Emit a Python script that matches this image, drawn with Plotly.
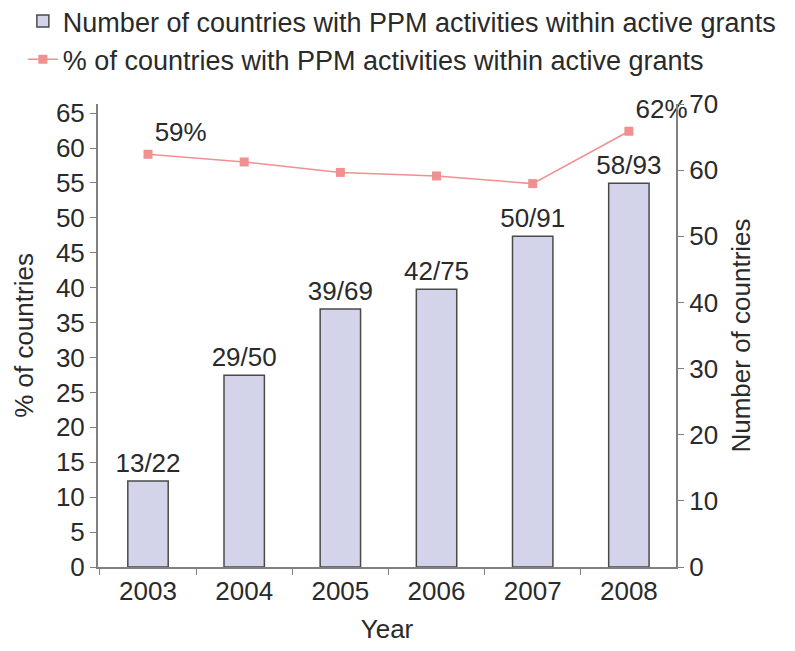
import plotly.graph_objects as go

years = ["2003", "2004", "2005", "2006", "2007", "2008"]
num_countries = [13, 29, 39, 42, 50, 58]
total_countries = [22, 50, 69, 75, 91, 93]
pct_countries = [59.1, 58.0, 56.5, 56.0, 54.9, 62.4]
left_ticks = list(range(0, 70, 5))
right_ticks = list(range(0, 80, 10))

bar_labels = [f"{n}/{t}" for n, t in zip(num_countries, total_countries)]
pct_labels = [f"{round(p)}%" if i in (0, len(pct_countries) - 1) else ""
              for i, p in enumerate(pct_countries)]

FONT = "Liberation Sans, Arial, Helvetica, sans-serif"
FS = 26
TXT = "#2a2a2a"
AX = "#808080"
LINEC = "#f09090"

fig = go.Figure()
fig.add_trace(go.Bar(
    x=years, y=num_countries, yaxis="y",
    name="Number of countries with PPM activities within active grants",
    marker=dict(color="#d3d4ea", line=dict(color="#4a4a4a", width=1.5)),
    width=0.42,
    text=bar_labels, textposition="outside", constraintext="none",
    cliponaxis=False,
    textfont=dict(size=FS, color=TXT, family=FONT),
))
fig.add_trace(go.Scatter(
    x=years, y=pct_countries, yaxis="y2", mode="lines+markers+text",
    name="% of countries with PPM activities within active grants",
    line=dict(color=LINEC, width=1.5),
    marker=dict(symbol="square", size=9, color=LINEC),
    text=pct_labels, textposition="top right",
    textfont=dict(size=FS, color=TXT, family=FONT),
    cliponaxis=False,
))

fig.update_layout(
    width=795, height=651,
    paper_bgcolor="white", plot_bgcolor="white",
    margin=dict(l=90, r=127, t=96, b=92, autoexpand=False),
    font=dict(family=FONT, size=FS, color=TXT),
    showlegend=True,
    legend=dict(x=-0.13, y=1.231, xanchor="left", yanchor="top",
                font=dict(size=27, color=TXT, family=FONT),
                bgcolor="rgba(0,0,0,0)", tracegroupgap=0),
    xaxis=dict(
        range=[-0.52, 5.49], showline=True, linecolor=AX, linewidth=2,
        ticks="outside", tickson="boundaries", ticklen=6, tickcolor=AX,
        showgrid=False, zeroline=False, automargin=False, tickangle=0,
        title=dict(text="Year", font=dict(size=FS, color=TXT)),
        tickfont=dict(size=FS, color=TXT),
    ),
    yaxis=dict(
        side="right", range=[0, 70], tickvals=right_ticks,
        showline=True, linecolor=AX, linewidth=2,
        ticks="outside", ticklen=6, tickcolor=AX,
        showgrid=False, zeroline=False, automargin=False,
        title=dict(text="Number of countries", font=dict(size=FS, color=TXT)),
        tickfont=dict(size=FS, color=TXT),
    ),
    yaxis2=dict(
        side="left", overlaying="y", range=[0, 66.3], tickvals=left_ticks,
        showline=True, linecolor=AX, linewidth=2,
        ticks="outside", ticklen=6, tickcolor=AX,
        showgrid=False, zeroline=False, automargin=False,
        title=dict(text="% of countries", font=dict(size=FS, color=TXT)),
        tickfont=dict(size=FS, color=TXT),
    ),
)

fig.write_html("out.html")
